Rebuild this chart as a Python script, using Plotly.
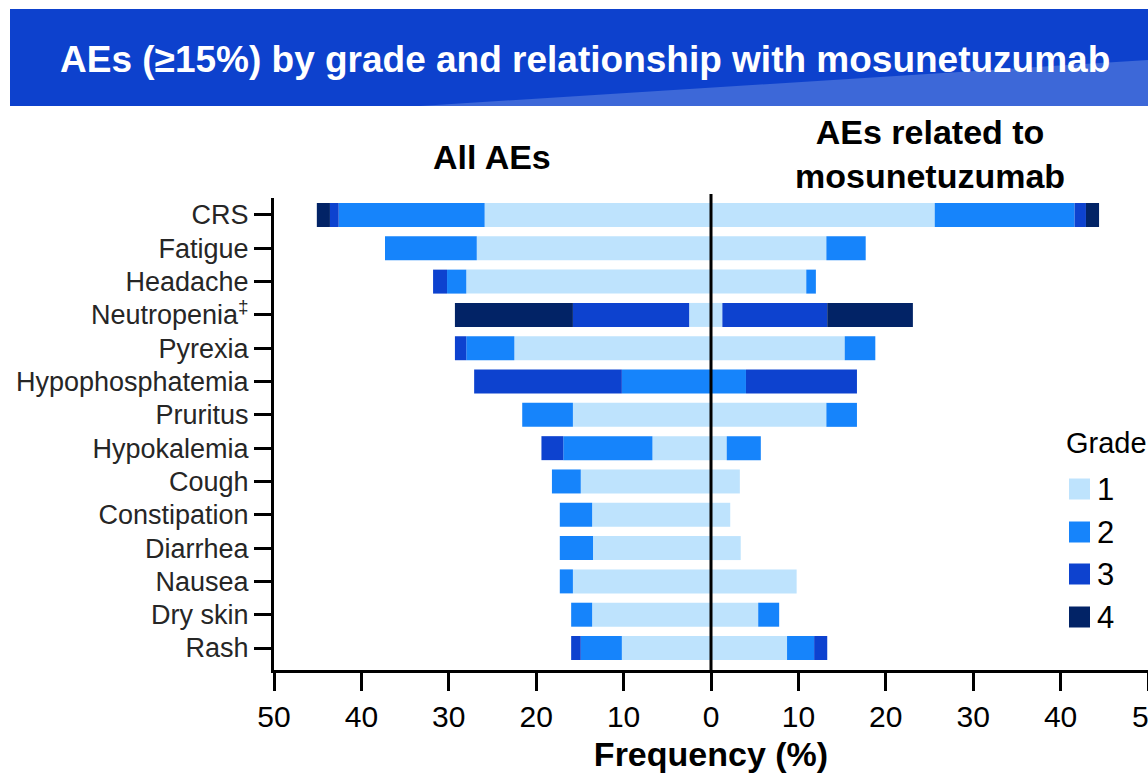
import plotly.graph_objects as go

# ---------------- data ----------------
categories = ["CRS", "Fatigue", "Headache", "Neutropenia<sup>‡</sup>", "Pyrexia",
              "Hypophosphatemia", "Pruritus", "Hypokalemia", "Cough", "Constipation",
              "Diarrhea", "Nausea", "Dry skin", "Rash"]

# All AEs (%), by grade
all_g1 = [25.9, 26.8, 28.0, 2.5, 22.5, 0, 15.8, 6.7, 14.9, 13.6, 13.5, 15.8, 13.6, 10.2]
all_g2 = [16.7, 10.5, 2.2, 0, 5.5, 10.2, 5.8, 10.2, 3.3, 3.7, 3.8, 1.5, 2.4, 4.7]
all_g3 = [1.0, 0, 1.6, 13.3, 1.3, 16.9, 0, 2.5, 0, 0, 0, 0, 0, 1.1]
all_g4 = [1.5, 0, 0, 13.5, 0, 0, 0, 0, 0, 0, 0, 0, 0, 0]

# AEs related to mosunetuzumab (%), by grade
rel_g1 = [25.6, 13.2, 10.9, 1.3, 15.3, 0, 13.2, 1.8, 3.3, 2.2, 3.4, 9.8, 5.4, 8.7]
rel_g2 = [16.0, 4.5, 1.1, 0, 3.5, 4.0, 3.5, 3.9, 0, 0, 0, 0, 2.4, 3.1]
rel_g3 = [1.3, 0, 0, 12.0, 0, 12.7, 0, 0, 0, 0, 0, 0, 0, 1.5]
rel_g4 = [1.5, 0, 0, 9.8, 0, 0, 0, 0, 0, 0, 0, 0, 0, 0]

grade_names = ["1", "2", "3", "4"]
grade_colors = ["#BEE3FD", "#1684FB", "#0D42CF", "#022366"]

tick_vals = [-50, -40, -30, -20, -10, 0, 10, 20, 30, 40, 50]
tick_text = ["50", "40", "30", "20", "10", "0", "10", "20", "30", "40", "50"]

# ---------------- figure ----------------
W, H = 1148, 777
ML, MR, MT, MB = 274, 0, 198, 107
FONT = "Liberation Sans, Arial, sans-serif"

fig = go.Figure()
all_series = [all_g1, all_g2, all_g3, all_g4]
rel_series = [rel_g1, rel_g2, rel_g3, rel_g4]
for name, color, a, r in zip(grade_names, grade_colors, all_series, rel_series):
    fig.add_trace(go.Bar(y=categories, x=[-v for v in a], orientation="h",
                         marker=dict(color=color, line=dict(width=0)),
                         name="Grade " + name, showlegend=False,
                         customdata=a,
                         hovertemplate="%{y}: %{customdata}%<extra>All AEs, grade " + name + "</extra>"))
    fig.add_trace(go.Bar(y=categories, x=r, orientation="h",
                         marker=dict(color=color, line=dict(width=0)),
                         name="Grade " + name, showlegend=False,
                         hovertemplate="%{y}: %{x}%<extra>Related, grade " + name + "</extra>"))

fig.update_layout(
    width=W, height=H,
    margin=dict(l=ML, r=MR, t=MT, b=MB),
    barmode="relative", bargap=0.28,
    plot_bgcolor="white", paper_bgcolor="white",
    font=dict(family=FONT, color="black"),
    showlegend=False,
)

fig.update_xaxes(
    range=[-50, 50], tickmode="array", tickvals=tick_vals, ticktext=tick_text,
    showline=True, linecolor="black", linewidth=3,
    ticks="outside", ticklen=18, tickwidth=3, tickcolor="black",
    tickfont=dict(size=30, family=FONT, color="black"),
    showgrid=False, zeroline=False,
    title=dict(text="<b>Frequency (%)</b>", font=dict(size=34, family=FONT, color="black"), standoff=11),
)
fig.update_yaxes(
    type="category", range=[13.66, -0.51],
    showline=True, linecolor="black", linewidth=3,
    ticks="outside", ticklen=17, tickwidth=3, tickcolor="black",
    tickfont=dict(size=27, family=FONT, color="#262626"),
    showgrid=False, zeroline=False,
)

PW = W - ML - MR
PH = H - MT - MB


def px_x(px):
    return (px - ML) / PW


def px_y(py):
    return (H - MB - py) / PH


shapes = []
# title banner
shapes.append(dict(type="rect", xref="paper", yref="paper",
                   x0=px_x(10), x1=px_x(1148), y0=px_y(106), y1=px_y(9),
                   fillcolor="#0D41CD", line=dict(width=0), layer="below"))
shapes.append(dict(type="path", xref="paper", yref="paper",
                   path="M {} {} L {} {} L {} {} Z".format(px_x(420), px_y(106), px_x(1148), px_y(106),
                                                         px_x(1148), px_y(60)),
                   fillcolor="#3D68D8", line=dict(width=0), layer="below"))
# zero line on top of the bars
shapes.append(dict(type="line", xref="x", yref="paper", x0=0, x1=0, y0=0, y1=px_y(194),
                   line=dict(color="black", width=3), layer="above"))

annotations = []
# right-most tick label (cut by the page edge, as in the original slide)
annotations.append(dict(xref="x", yref="paper", x=tick_vals[-1], y=px_y(716),
                        text=tick_text[-1], showarrow=False, xanchor="center", yanchor="middle",
                        font=dict(size=30, color="black", family=FONT)))
annotations.append(dict(xref="paper", yref="paper", x=px_x(585), y=px_y(60),
                        text="<b>AEs (≥15%) by grade and relationship with mosunetuzumab</b>",
                        showarrow=False, xanchor="center", yanchor="middle",
                        font=dict(size=37, color="white", family=FONT)))
annotations.append(dict(xref="paper", yref="paper", x=px_x(492), y=px_y(157),
                        text="<b>All AEs</b>", showarrow=False, xanchor="center", yanchor="middle",
                        font=dict(size=34, color="black", family=FONT)))
annotations.append(dict(xref="paper", yref="paper", x=px_x(930), y=px_y(154),
                        text="<b>AEs related to<br>mosunetuzumab</b>", showarrow=False,
                        xanchor="center", yanchor="middle", align="center",
                        font=dict(size=34, color="black", family=FONT)))

# manual legend
annotations.append(dict(xref="paper", yref="paper", x=px_x(1064), y=px_y(443),
                        text="Grade", showarrow=False, xanchor="left", yanchor="middle",
                        font=dict(size=29, color="black", family=FONT)))
leg_y = [489, 532, 574, 617]
for name, color, cy in zip(grade_names, grade_colors, leg_y):
    shapes.append(dict(type="rect", xref="paper", yref="paper",
                       x0=px_x(1069), x1=px_x(1090), y0=px_y(cy + 10.5), y1=px_y(cy - 10.5),
                       fillcolor=color, line=dict(width=0)))
    annotations.append(dict(xref="paper", yref="paper", x=px_x(1095), y=px_y(cy),
                            text=name, showarrow=False, xanchor="left", yanchor="middle",
                            font=dict(size=31, color="black", family=FONT)))

fig.update_layout(shapes=shapes, annotations=annotations)

fig.write_html("out.html", config={"displayModeBar": False},
               post_script="document.body.style.margin='0';document.body.style.overflow='hidden';")
